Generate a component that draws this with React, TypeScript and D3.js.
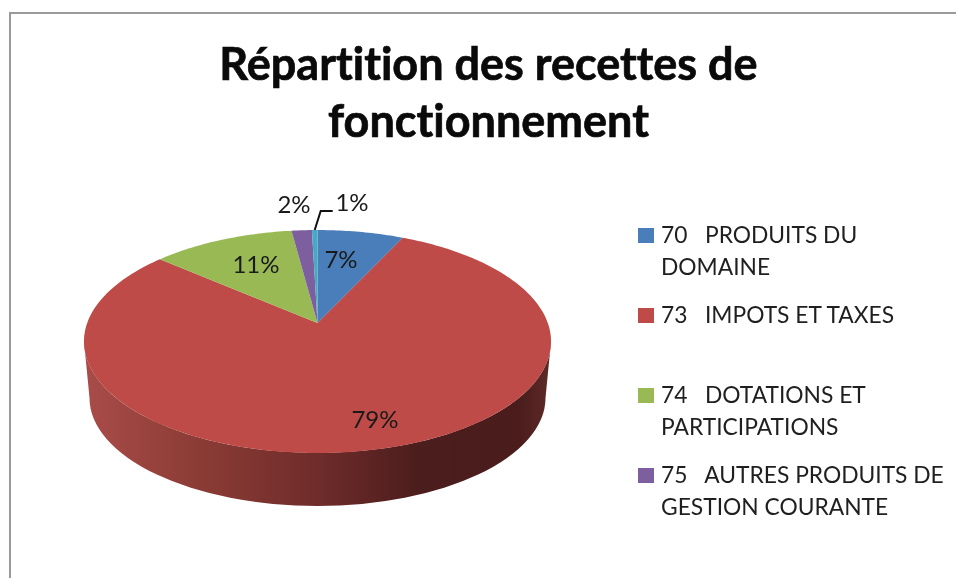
import React, { useRef, useEffect } from 'react';
import * as d3 from 'd3';

const titleLines = ['Répartition des recettes de', 'fonctionnement'];
const shares = [7.0, 79.3, 11.6, 1.65, 0.45];
const shareLabels = ['7%', '79%', '11%', '2%', '1%'];
const sliceColors = ['#4a7ebb', '#be4b48', '#98b954', '#7d5fa0', '#46aac5'];
const legendLines = [
  ['70   PRODUITS DU', 'DOMAINE'],
  ['73   IMPOTS ET TAXES'],
  ['74   DOTATIONS ET', 'PARTICIPATIONS'],
  ['75   AUTRES PRODUITS DE', 'GESTION COURANTE'],
];

// layout
const legendBaselines = [243, 323, 403, 483];
const labelPositions = [[341, 268], [375, 428], [256, 273], [294, 213], [352, 211]];
const FONT = 'Lato, "Open Sans", sans-serif';

const App = () => {
  const svgRef = useRef<SVGSVGElement>(null);

  useEffect(() => {
    const svg = d3.select(svgRef.current);
    svg.selectAll('*').remove();

    // Excel style 3D pie: perspective map of the unit circle
    const cx = 317.5;
    const cy = 323;
    const k = -0.166;
    const R = 230.3;
    const S = 108.4;
    const project = (a: number): [number, number] => {
      const u = Math.sin(a);
      const v = -Math.cos(a);
      const w = 1 + k * v;
      return [cx + (R * u) / w, cy + (S * v) / w];
    };

    const pie = d3.pie<number>().sort(null).value(d => d);
    const arcs = pie(shares);
    const line = d3.line();

    const rim = (a0: number, a1: number) =>
      d3.range(0, 1.0001, 1 / Math.max(2, Math.ceil((a1 - a0) * 60))).map(t => project(a0 + (a1 - a0) * t));

    // side wall
    const defs = svg.append('defs');
    const grad = defs.append('linearGradient').attr('id', 'wall').attr('x1', 0).attr('x2', 1).attr('y1', 0).attr('y2', 0);
    [[0, '#a94c4a'], [0.25, '#8b3b35'], [0.5, '#6f2c2b'], [0.72, '#4b1d1c'], [0.93, '#4a1c1c'], [1, '#5e2a28']].forEach(([o, c]) =>
      grad.append('stop').attr('offset', o as number).attr('stop-color', c as string)
    );

    const topCy = 341.5;
    const topRy = 111.5;
    const topRx = 233.5;
    const wallRx = 228;
    const wallCy = 398;
    const wallRy = 108;
    const wallD =
      `M${cx - topRx},${topCy} L${cx - wallRx},${wallCy} ` +
      `A${wallRx},${wallRy} 0 0 0 ${cx + wallRx},${wallCy} ` +
      `L${cx + topRx},${topCy} A${topRx},${topRy} 0 0 1 ${cx - topRx},${topCy} Z`;
    svg.append('path').attr('d', wallD).attr('fill', 'url(#wall)');

    // slices
    arcs.forEach((d, i) => {
      const pts: [number, number][] = [[cx, cy], ...rim(d.startAngle, d.endAngle)];
      svg.append('path').attr('d', line(pts) + 'Z').attr('fill', sliceColors[i]);
    });

    // frame
    svg.append('path')
      .attr('d', 'M10,578 V13 H956')
      .attr('fill', 'none')
      .attr('stroke', '#9a9a9a')
      .attr('stroke-width', 2);

    // title
    svg.selectAll('.title')
      .data(titleLines)
      .enter().append('text')
      .attr('class', 'title')
      .attr('x', 488.5)
      .attr('y', (d, i) => 80 + i * 56.5)
      .attr('text-anchor', 'middle')
      .style('font-family', FONT)
      .style('font-weight', 700)
      .style('font-size', '45px')
      .style('font-variant-ligatures', 'none')
      .style('fill', '#0a0a0a')
      .style('stroke', '#0a0a0a')
      .style('stroke-width', 0.7)
      .text(d => d);

    // data labels
    shareLabels.forEach((t, i) => {
      svg.append('text')
        .attr('x', labelPositions[i][0])
        .attr('y', labelPositions[i][1])
        .attr('text-anchor', 'middle')
        .style('font-family', FONT)
        .style('font-size', '24px')
        .style('fill', '#1a1a1a')
        .text(t);
    });

    // leader for the smallest slice
    const [lx, ly] = project((arcs[4].startAngle + arcs[4].endAngle) / 2);
    svg.append('path')
      .attr('d', `M${lx},${ly} L${lx + 6},${ly - 19} H${lx + 18}`)
      .attr('fill', 'none')
      .attr('stroke', '#111')
      .attr('stroke-width', 2);

    // legend
    legendLines.forEach((lines, i) => {
      svg.append('rect')
        .attr('x', 638)
        .attr('y', legendBaselines[i] - 15)
        .attr('width', 16)
        .attr('height', 15)
        .attr('fill', sliceColors[i]);
      lines.forEach((t, j) => {
        svg.append('text')
          .attr('x', 661)
          .attr('y', legendBaselines[i] + j * 31.5)
          .style('font-family', FONT)
          .style('font-size', '22.8px')
          .style('font-variant-ligatures', 'none')
          .style('fill', '#1f1f1f')
          .style('white-space', 'pre')
          .text(t);
      });
    });
  }, []);

  return (
    <svg
      ref={svgRef}
      width={956}
      height={578}
      style={{ position: 'absolute', left: 0, top: 0, background: '#fff', filter: 'blur(0.5px)' }}
    />
  );
};

export default App;
